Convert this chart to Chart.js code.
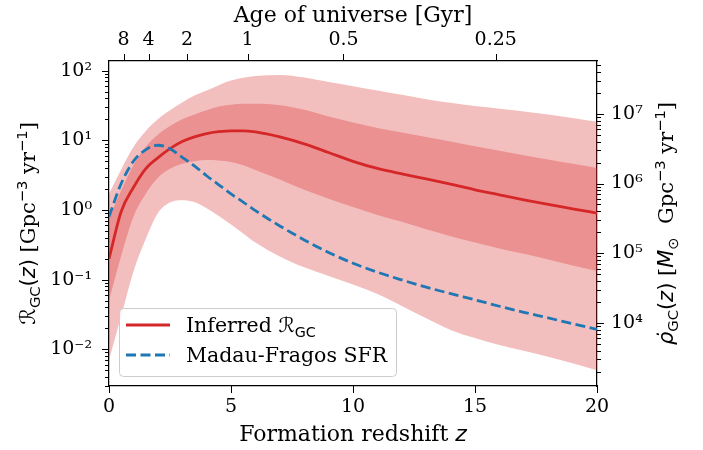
<!DOCTYPE html>
<html lang="en">
<head>
<meta charset="UTF-8">
<title>GC formation rate</title>
<script src="https://cdn.jsdelivr.net/npm/chart.js"></script>
<style>
  body { margin: 0; background: #fff; }
</style>
</head>
<body>
<canvas id="rateChart" width="703" height="450"></canvas>
<script>
  // formation redshift grid
  const redshift = [0, 0.5, 1, 1.5, 2, 2.5, 3, 3.5, 4, 4.5, 5, 5.5, 6, 7, 8, 9, 10, 11, 12, 13, 14, 15, 16, 17, 18, 19, 20];
  // inferred R_GC median and credible bands [Gpc^-3 yr^-1]
  const rateMedian = [0.2, 0.95, 2.1, 3.9, 5.6, 7.6, 9.6, 11.2, 12.5, 13.3, 13.7, 13.7, 13.2, 11.2, 8.9, 6.7, 5.0, 3.95, 3.3, 2.8, 2.35, 1.95, 1.65, 1.4, 1.2, 1.04, 0.9];
  const rateLo50 = [0.05, 0.22, 0.8, 1.7, 2.9, 3.9, 4.6, 5.0, 5.2, 5.15, 4.9, 4.4, 3.75, 2.75, 1.95, 1.45, 1.1, 0.85, 0.68, 0.53, 0.42, 0.34, 0.28, 0.235, 0.195, 0.16, 0.133];
  const rateHi50 = [0.75, 1.9, 4.4, 8.0, 12, 16, 20, 23.5, 27, 30.5, 32.5, 33.5, 33.5, 32, 27.5, 22, 18, 15, 13, 11.2, 9.6, 8.2, 7.1, 6.1, 5.3, 4.6, 4.0];
  const rateLo90 = [0.007, 0.03, 0.13, 0.38, 0.9, 1.28, 1.38, 1.3, 1.06, 0.82, 0.62, 0.46, 0.34, 0.215, 0.15, 0.113, 0.085, 0.062, 0.042, 0.028, 0.019, 0.0145, 0.0115, 0.0095, 0.0078, 0.0063, 0.005];
  const rateHi90 = [1.7, 3.8, 8.0, 13.5, 20, 27, 35, 44, 52, 62, 72, 79, 84, 87, 80, 69, 60, 52, 45, 39, 34.5, 31, 28.5, 26, 23.5, 21, 18.5];
  // Madau-Fragos star formation rate, scaled to the left axis
  const madauSfr = [0.8, 2.4, 5.0, 7.3, 8.5, 7.6, 5.7, 4.3, 3.1, 2.3, 1.7, 1.3, 0.98, 0.59, 0.372, 0.246, 0.172, 0.128, 0.099, 0.078, 0.063, 0.0513, 0.0415, 0.034, 0.0282, 0.0233, 0.0193];

  // top axis: age of universe
  const ageLabels = ['8', '4', '2', '1', '0.5', '0.25'];
  const ageRedshift = [0.6, 1.62, 3.2, 5.68, 9.61, 15.85];

  // axis ticks
  const leftTicks = [0.01, 0.1, 1, 10, 100];
  const leftLabels = ['10\u207b\u00b2', '10\u207b\u00b9', '10\u2070', '10\u00b9', '10\u00b2'];
  const rightTicks = [1e4, 1e5, 1e6, 1e7];
  const rightLabels = ['10\u2074', '10\u2075', '10\u2076', '10\u2077'];
  const bottomTicks = [0, 5, 10, 15, 20];

  // log10 limits of the left axis, and offset of the right axis
  const leftLogMin = -2.527;
  const leftLogMax = 2.139;
  const rightLogOffset = 5.62;

  const RED = 'rgb(214, 39, 40)';
  const BAND = 'rgba(214, 39, 40, 0.3)';
  const BLUE = 'rgb(31, 119, 180)';
  const SERIF = '"DejaVu Serif"';
  const SANS = '"DejaVu Sans"';

  function pts(arr) {
    return redshift.map((z, i) => ({ x: z, y: arr[i] }));
  }

  function minorTicks(logMin, logMax) {
    const out = [];
    for (let k = Math.floor(logMin); k <= Math.ceil(logMax); k++) {
      for (let m = 2; m <= 9; m++) {
        const v = m * Math.pow(10, k);
        const lv = Math.log10(v);
        if (lv > logMin && lv < logMax) out.push(v);
      }
    }
    return out;
  }

  // text with sub/superscripts, parts: [text, family, italic, scale, shift]
  function richText(ctx, parts, x, y, angle, size) {
    ctx.save();
    ctx.translate(x, y);
    ctx.rotate(angle);
    ctx.fillStyle = '#000';
    ctx.textBaseline = 'alphabetic';
    ctx.textAlign = 'left';
    const font = p => (p[2] ? 'italic ' : '') + (size * p[3]).toFixed(1) + 'px ' + p[1];
    let w = 0;
    parts.forEach(p => { ctx.font = font(p); w += ctx.measureText(p[0]).width; });
    let cx = -w / 2;
    parts.forEach(p => {
      ctx.font = font(p);
      ctx.fillText(p[0], cx, p[4] * size);
      cx += ctx.measureText(p[0]).width;
    });
    ctx.restore();
  }

  const SUB = 0.22, SUP = -0.4, S = 0.7;

  const decor = {
    id: 'decor',
    afterDraw(chart) {
      const ctx = chart.ctx;
      const area = chart.chartArea;
      const sy = chart.scales.y, sy2 = chart.scales.y2, sx = chart.scales.x, sx2 = chart.scales.x2;
      ctx.save();
      ctx.strokeStyle = '#000';
      ctx.lineWidth = 1;
      ctx.beginPath();
      const tick = (x1, y1, x2, y2) => { ctx.moveTo(x1, y1); ctx.lineTo(x2, y2); };
      leftTicks.forEach(v => { const p = Math.round(sy.getPixelForValue(v)) + 0.5; tick(area.left - 7, p, area.left, p); });
      minorTicks(leftLogMin, leftLogMax).forEach(v => { const p = Math.round(sy.getPixelForValue(v)) + 0.5; tick(area.left - 4, p, area.left, p); });
      rightTicks.forEach(v => { const p = Math.round(sy2.getPixelForValue(v)) + 0.5; tick(area.right, p, area.right + 7, p); });
      minorTicks(leftLogMin + rightLogOffset, leftLogMax + rightLogOffset).forEach(v => { const p = Math.round(sy2.getPixelForValue(v)) + 0.5; tick(area.right, p, area.right + 4, p); });
      bottomTicks.forEach(v => { const p = Math.round(sx.getPixelForValue(v)) + 0.5; tick(p, area.bottom, p, area.bottom + 7); });
      ageRedshift.forEach(v => { const p = Math.round(sx2.getPixelForValue(v)) + 0.5; tick(p, area.top, p, area.top - 7); });
      ctx.stroke();
      ctx.restore();

      // axis titles
      const cy = (area.top + area.bottom) / 2;
      const cx = (area.left + area.right) / 2;
      richText(ctx, [['Age of universe [Gyr]', SERIF, false, 1, 0]], cx, 22, 0, 22);
      richText(ctx, [['Formation redshift ', SERIF, false, 1, 0], ['z', SANS, true, 1, 0]], cx, 441, 0, 22);
      richText(ctx, [
        ['\u211b', SANS, false, 1, 0], ['GC', SANS, false, S, SUB], ['(', SANS, false, 1, 0], ['z', SANS, true, 1, 0], [')', SANS, false, 1, 0],
        [' [Gpc', SERIF, false, 1, 0], ['\u22123', SANS, false, S, SUP], [' yr', SERIF, false, 1, 0], ['\u22121', SANS, false, S, SUP], [']', SERIF, false, 1, 0]
      ], 35, cy, -Math.PI / 2, 21);
      richText(ctx, [
        ['\u03c1\u0307', SANS, true, 1, 0], ['GC', SANS, false, S, SUB], ['(', SANS, false, 1, 0], ['z', SANS, true, 1, 0], [')', SANS, false, 1, 0],
        [' [', SERIF, false, 1, 0], ['M', SANS, true, 1, 0], ['\u2299', SANS, false, S, SUB], ['  Gpc', SERIF, false, 1, 0], ['\u22123', SANS, false, S, SUP],
        [' yr', SERIF, false, 1, 0], ['\u22121', SANS, false, S, SUP], [']', SERIF, false, 1, 0]
      ], 673, cy, -Math.PI / 2, 21);

      // legend
      ctx.save();
      ctx.beginPath();
      ctx.roundRect(119.5, 308.5, 277, 68, 4);
      ctx.fillStyle = 'rgba(255,255,255,0.8)';
      ctx.fill();
      ctx.strokeStyle = '#cccccc';
      ctx.lineWidth = 1;
      ctx.stroke();
      ctx.lineWidth = 2.8;
      ctx.strokeStyle = RED;
      ctx.beginPath(); ctx.moveTo(126, 325); ctx.lineTo(170, 325); ctx.stroke();
      ctx.strokeStyle = BLUE;
      ctx.setLineDash([10, 4.5]);
      ctx.beginPath(); ctx.moveTo(126, 355); ctx.lineTo(170, 355); ctx.stroke();
      ctx.restore();
      ctx.save();
      ctx.textAlign = 'left';
      const legendRow = (parts, y) => {
        let x = 186;
        parts.forEach(p => {
          ctx.font = (p[2] ? 'italic ' : '') + (20.5 * p[3]).toFixed(1) + 'px ' + p[1];
          ctx.fillStyle = '#000';
          ctx.fillText(p[0], x, y + p[4] * 20.5);
          x += ctx.measureText(p[0]).width;
        });
      };
      legendRow([['Inferred ', SERIF, false, 1, 0], ['\u211b', SANS, false, 1, 0], ['GC', SANS, false, S, SUB]], 332);
      legendRow([['Madau-Fragos SFR', SERIF, false, 1, 0]], 362);
      ctx.restore();
    }
  };

  const tickFont = { family: SERIF, size: 19 };

  const config = {
    type: 'line',
    data: {
      datasets: [
        { label: 'Madau-Fragos SFR', data: pts(madauSfr), borderColor: BLUE, borderWidth: 2.8, borderDash: [10, 4.5], fill: false, order: 0 },
        { label: 'Inferred R_GC', data: pts(rateMedian), borderColor: RED, borderWidth: 2.8, fill: false, order: 1 },
        { label: 'hi90', data: pts(rateHi90), borderWidth: 0, backgroundColor: BAND, fill: 3, order: 4 },
        { label: 'lo90', data: pts(rateLo90), borderWidth: 0, fill: false, order: 4 },
        { label: 'hi50', data: pts(rateHi50), borderWidth: 0, backgroundColor: BAND, fill: 5, order: 3 },
        { label: 'lo50', data: pts(rateLo50), borderWidth: 0, fill: false, order: 3 }
      ]
    },
    options: {
      responsive: false,
      devicePixelRatio: 1,
      animation: false,
      layout: { padding: 0 },
      elements: { point: { radius: 0 }, line: { cubicInterpolationMode: 'monotone' } },
      plugins: { legend: { display: false }, tooltip: { enabled: false } },
      scales: {
        x: {
          type: 'linear', position: 'bottom', min: 0, max: 20,
          afterBuildTicks: s => { s.ticks = bottomTicks.map(v => ({ value: v })); },
          afterFit: s => { s.height = 64; },
          grid: { drawOnChartArea: false, drawTicks: false },
          border: { display: true, color: '#000', width: 1.25 },
          ticks: { font: tickFont, color: '#000', padding: 10, maxRotation: 0, autoSkip: false }
        },
        x2: {
          type: 'linear', position: 'top', min: 0, max: 20,
          afterBuildTicks: s => { s.ticks = ageRedshift.map(v => ({ value: v })); },
          afterFit: s => { s.height = 61; },
          grid: { drawOnChartArea: false, drawTicks: false },
          border: { display: true, color: '#000', width: 1.25 },
          ticks: { font: tickFont, color: '#000', padding: 10, maxRotation: 0, autoSkip: false, callback: (v, i) => ageLabels[i] }
        },
        y: {
          type: 'logarithmic', position: 'left',
          min: Math.pow(10, leftLogMin), max: Math.pow(10, leftLogMax),
          afterBuildTicks: s => { s.ticks = leftTicks.map(v => ({ value: v })); },
          afterFit: s => { s.width = 109; },
          grid: { drawOnChartArea: false, drawTicks: false },
          border: { display: true, color: '#000', width: 1.25 },
          ticks: { font: tickFont, color: '#000', padding: 17, autoSkip: false, callback: (v, i) => leftLabels[i] }
        },
        y2: {
          type: 'logarithmic', position: 'right',
          min: Math.pow(10, leftLogMin + rightLogOffset), max: Math.pow(10, leftLogMax + rightLogOffset),
          afterBuildTicks: s => { s.ticks = rightTicks.map(v => ({ value: v })); },
          afterFit: s => { s.width = 106; },
          grid: { drawOnChartArea: false, drawTicks: false },
          border: { display: true, color: '#000', width: 1.25 },
          ticks: { font: tickFont, color: '#000', padding: 14, autoSkip: false, callback: (v, i) => rightLabels[i] }
        }
      }
    },
    plugins: [decor]
  };

  var rateChart = new Chart(document.getElementById('rateChart'), config);
</script>
</body>
</html>
